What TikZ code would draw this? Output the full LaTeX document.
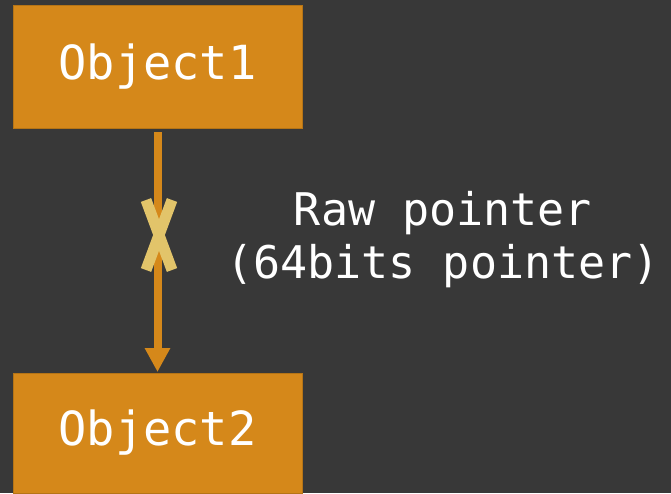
\documentclass[tikz,border=0pt]{standalone}
\usepackage{fontspec}
\newfontfamily\codefont{DejaVu Sans Mono}
\usepackage{xcolor}
\usetikzlibrary{arrows.meta, positioning}
\definecolor{bgdark}{HTML}{383838}
\definecolor{objorange}{HTML}{D5881A}
\definecolor{crossyel}{HTML}{E2C46A}
\tikzset{
    obj/.style={draw=objorange!85!black, line width=0.8pt, fill=objorange, text=white,
                minimum width=289pt, minimum height=123pt, outer sep=0pt, inner sep=0pt,
                font=\codefont\fontsize{47pt}{56pt}\selectfont},
    ptr/.style={-{Triangle[length=24pt, width=24pt]}, line width=8pt, objorange},
    brk/.style={line width=11pt, crossyel},
    lab/.style={font=\codefont\fontsize{45pt}{53pt}\selectfont, text=white, align=center, inner sep=0pt},
}

\begin{document}
\begin{tikzpicture}[x=1pt, y=1pt]
    \fill[bgdark] (0,0) rectangle (671,-493);
    \useasboundingbox (0,0) rectangle (671,-493);
    \node[obj] (obj1) at (157.5,-66.5) {Object1};
    \node[obj, minimum height=120pt, below=245pt of obj1] (obj2) {Object2};
    \draw[ptr] ([yshift=-4pt]obj1.south) -- ([yshift=1pt]obj2.north);
    % broken link
    \coordinate (cut) at (159,-235);
    \draw[brk] ([shift={(-13,35)}]cut) -- ([shift={(13,-35)}]cut);
    \draw[brk] ([shift={(13,35)}]cut) -- ([shift={(-13,-35)}]cut);
    \node[lab] (rawptr) at (443,-240) {Raw pointer\\(64bits pointer)};
\end{tikzpicture}
\end{document}
